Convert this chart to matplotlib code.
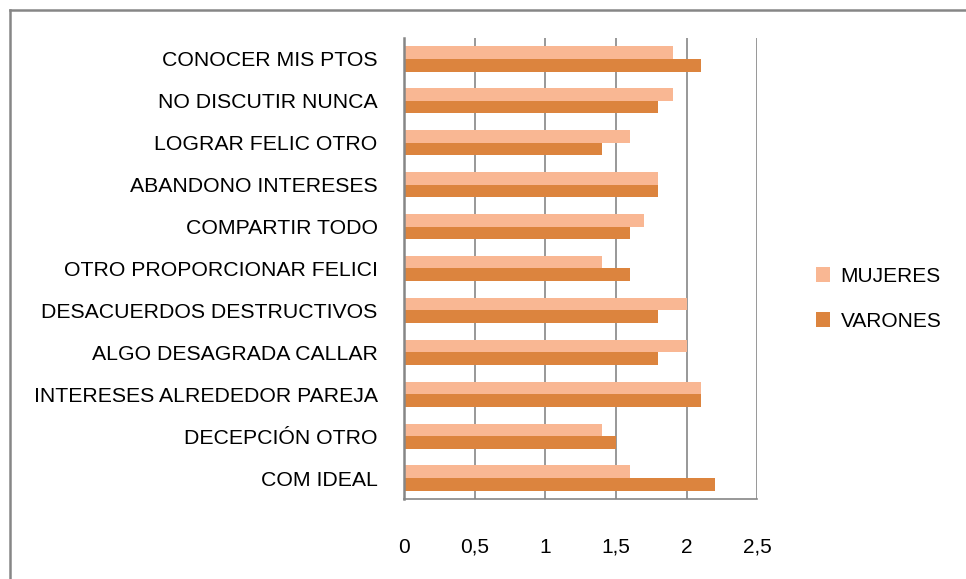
import matplotlib
matplotlib.use('Agg')
import matplotlib.pyplot as plt
import numpy as np
from matplotlib.lines import Line2D

categorias = ['COM IDEAL', 'DECEPCIÓN OTRO', 'INTERESES ALREDEDOR PAREJA',
              'ALGO DESAGRADA CALLAR', 'DESACUERDOS DESTRUCTIVOS',
              'OTRO PROPORCIONAR FELICI', 'COMPARTIR TODO', 'ABANDONO INTERESES',
              'LOGRAR FELIC OTRO', 'NO DISCUTIR NUNCA', 'CONOCER MIS PTOS']
mujeres = [1.6, 1.4, 2.1, 2.0, 2.0, 1.4, 1.7, 1.8, 1.6, 1.9, 1.9]
varones = [2.2, 1.5, 2.1, 1.8, 1.8, 1.6, 1.6, 1.8, 1.4, 1.8, 2.1]
xticks = [0, 0.5, 1, 1.5, 2, 2.5]
xtick_labels = ['0', '0,5', '1', '1,5', '2', '2,5']

plt.rcParams['font.family'] = ['Liberation Sans', 'DejaVu Sans']

fig = plt.figure(figsize=(9.66, 5.79), dpi=100)
ax = fig.add_axes([0.4182, 0.1382, 0.3658, 0.7962])

y = np.arange(len(categorias))
h = 0.3
ax.barh(y + h / 2, mujeres, height=h, color='#F9B793', label='MUJERES', zorder=3)
ax.barh(y - h / 2, varones, height=h, color='#DC843E', label='VARONES', zorder=3)

ax.set_xlim(0, 2.5)
ax.set_ylim(-0.5, len(categorias) - 0.5)
ax.set_xticks(xticks)
ax.set_xticklabels(xtick_labels, fontsize=15)
ax.set_yticks(y)
ax.set_yticklabels(categorias, fontsize=15.3)
ax.tick_params(axis='both', length=0)
ax.tick_params(axis='x', pad=28)
ax.tick_params(axis='y', pad=19)

for v in xticks[1:]:
    ax.axvline(v, color='#868686', linewidth=1.2, zorder=1)

for s in ['top', 'right']:
    ax.spines[s].set_visible(False)
ax.spines['left'].set_color('#868686')
ax.spines['left'].set_linewidth(1.8)
ax.spines['left'].set_zorder(4)
ax.spines['bottom'].set_color('#868686')
ax.spines['bottom'].set_linewidth(1.2)

leg = fig.legend(loc='upper left', bbox_to_anchor=(0.825, 0.572), frameon=False,
                 fontsize=15, handlelength=0.7, handleheight=0.7,
                 handletextpad=0.5, labelspacing=1.25)

# outer chart border (top and left edges visible)
fig.add_artist(Line2D([0.0104, 1.0], [0.983, 0.983], color='#868686', linewidth=1.8,
                      transform=fig.transFigure))
fig.add_artist(Line2D([0.0104, 0.0104], [0.0, 0.983], color='#868686', linewidth=1.8,
                      transform=fig.transFigure))

fig.savefig('out.png', dpi=100)
